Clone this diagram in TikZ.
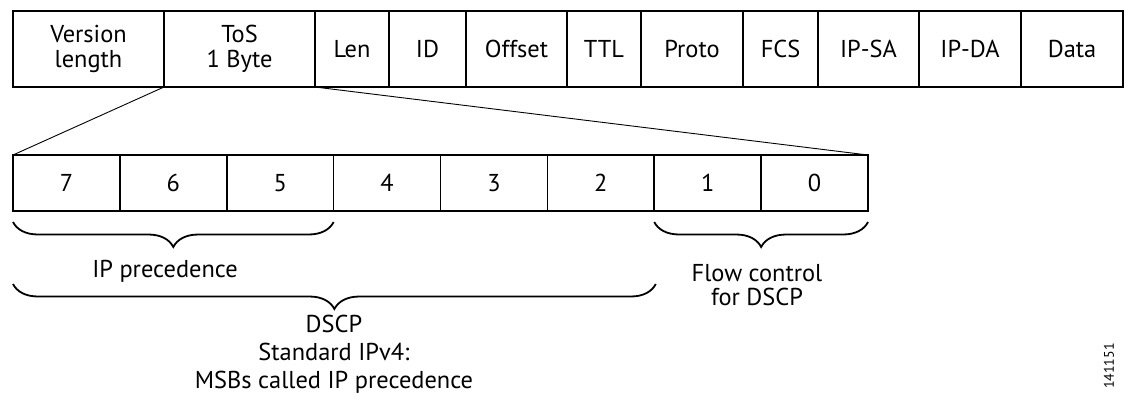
\documentclass[tikz,border=0pt]{standalone}
\usepackage{fontspec}
\setmainfont{PT Sans}
\usetikzlibrary{decorations.pathreplacing}
\begin{document}
\begin{tikzpicture}[x=1bp,y=-1bp,
  txt/.style={font=\fontsize{24.5}{25}\selectfont},
  field/.style={txt, draw, line width=1.7bp, minimum height=76bp, outer sep=0pt,
    inner sep=0pt, anchor=north west, align=center},
  bit/.style={txt, draw, line width=1.7bp, minimum width=106.875bp, minimum height=56bp,
    outer sep=0pt, inner sep=0pt, anchor=north west},
  zoomline/.style={line width=0.9bp},
  brc/.style={decorate, decoration={brace, mirror, amplitude=25bp}, line width=1.8bp},
  lbl/.style={align=center, inner sep=0pt}
]
\useasboundingbox (0,0) rectangle (1125,395);

% IPv4 header fields
\node[field, minimum width=151bp] (ver) at (13,11) {Version\\length};
\node[field, minimum width=151bp] (tos) at (ver.north east) {ToS\\1 Byte};
\node[field, minimum width=74bp]  (len) at (tos.north east) {Len};
\node[field, minimum width=77bp]  (id)  at (len.north east) {ID};
\node[field, minimum width=101bp] (off) at (id.north east) {Offset};
\node[field, minimum width=74bp]  (ttl) at (off.north east) {TTL};
\node[field, minimum width=102bp] (pro) at (ttl.north east) {Proto};
\node[field, minimum width=75bp]  (fcs) at (pro.north east) {FCS};
\node[field, minimum width=101bp] (sa)  at (fcs.north east) {IP-SA};
\node[field, minimum width=102bp] (da)  at (sa.north east) {IP-DA};
\node[field, minimum width=102bp] (dat) at (da.north east) {Data};

% ToS byte, bits 7..0
\node[bit] (b7) at (13,155) {7};
\node[bit] (b6) at (b7.north east) {6};
\node[bit] (b5) at (b6.north east) {5};
\node[bit] (b4) at (b5.north east) {4};
\node[bit] (b3) at (b4.north east) {3};
\node[bit] (b2) at (b3.north east) {2};
\node[bit] (b1) at (b2.north east) {1};
\node[bit] (b0) at (b1.north east) {0};

% expansion of the ToS field
\draw[zoomline] (tos.south west) -- (b7.north west);
\draw[zoomline] (tos.south east) -- (b0.north east);

% braces under the bits
\draw[brc] ([yshift=-11bp]b7.south west) -- ([yshift=-11bp]b5.south east);
\draw[brc] ([yshift=-11bp]b1.south west) -- ([yshift=-11bp]b0.south east);
\draw[brc] ([yshift=-73bp]b7.south west) -- ([yshift=-73bp,xshift=1.5bp]b2.south east);

% labels (anchor base = baseline of the last line)
\node[lbl, font=\fontsize{24.5}{25}\selectfont, anchor=base] (ipp) at (165,277) {IP precedence};
\node[lbl, font=\fontsize{24.5}{24}\selectfont, anchor=base] (flow) at (757,305) {Flow control\\for DSCP};
\node[lbl, font=\fontsize{24.5}{28}\selectfont, anchor=base] (dscp) at (334,388) {DSCP\\Standard IPv4:\\MSBs called IP precedence};
\node[font=\fontsize{14}{15}\selectfont, rotate=90, inner sep=0pt] (fig) at (1109,366) {141151};
\end{tikzpicture}
\end{document}
